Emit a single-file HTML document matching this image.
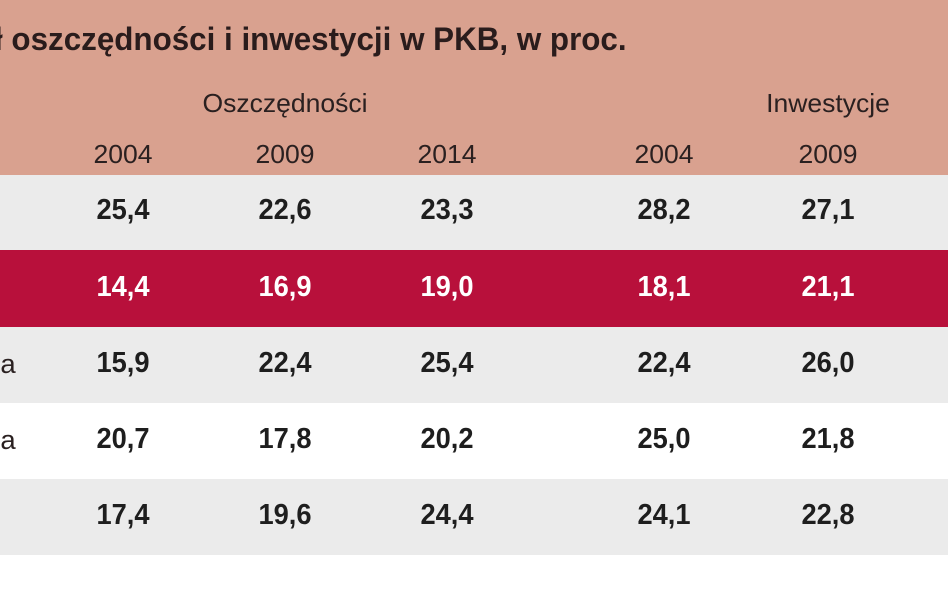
<!DOCTYPE html>
<html><head><meta charset="utf-8"><style>
body{margin:0;width:948px;height:593px;overflow:hidden;background:#fff;position:relative;font-family:"Liberation Sans Narrow","Liberation Sans",sans-serif;}
.b{position:absolute;left:0;width:948px}
.t{position:absolute;white-space:nowrap;transform:translateX(-50%) scaleX(0.94);}
.n{font-weight:bold;font-size:29px;color:#1e1e1e}
.w{color:#fff}
.y{font-size:26px;color:#2a2020;transform:translateX(-50%) scaleX(1.02)}
</style></head><body>
<div class="b" style="top:0;height:175px;background:#d9a18f"></div>
<div class="b" style="top:175px;height:75px;background:#ebebeb"></div>
<div class="b" style="top:250px;height:77px;background:#b8103b"></div>
<div class="b" style="top:327px;height:76px;background:#ebebeb"></div>
<div class="b" style="top:403px;height:76px;background:#fff"></div>
<div class="b" style="top:479px;height:76px;background:#ebebeb"></div>
<div style="position:absolute;left:-6px;top:21px;font-weight:bold;font-size:32px;color:#2a1c1c;white-space:nowrap;transform-origin:left;transform:scaleX(0.98)">ł oszczędności i inwestycji w PKB, w proc.</div>
<div class="t y" style="left:285px;top:88px">Oszczędności</div>
<div class="t y" style="left:828px;top:88px">Inwestycje</div>
<div class="t y" style="left:123px;top:139px">2004</div>
<div class="t y" style="left:285px;top:139px">2009</div>
<div class="t y" style="left:447px;top:139px">2014</div>
<div class="t y" style="left:664px;top:139px">2004</div>
<div class="t y" style="left:828px;top:139px">2009</div>

<div class="t n" style="left:123px;top:194px">25,4</div><div class="t n" style="left:285px;top:194px">22,6</div><div class="t n" style="left:447px;top:194px">23,3</div><div class="t n" style="left:664px;top:194px">28,2</div><div class="t n" style="left:828px;top:194px">27,1</div>
<div class="t n w" style="left:123px;top:271px">14,4</div><div class="t n w" style="left:285px;top:271px">16,9</div><div class="t n w" style="left:447px;top:271px">19,0</div><div class="t n w" style="left:664px;top:271px">18,1</div><div class="t n w" style="left:828px;top:271px">21,1</div>
<div class="t y" style="left:8px;top:349px;font-size:27px">a</div>
<div class="t n" style="left:123px;top:347px">15,9</div><div class="t n" style="left:285px;top:347px">22,4</div><div class="t n" style="left:447px;top:347px">25,4</div><div class="t n" style="left:664px;top:347px">22,4</div><div class="t n" style="left:828px;top:347px">26,0</div>
<div class="t y" style="left:8px;top:425px;font-size:27px">a</div>
<div class="t n" style="left:123px;top:423px">20,7</div><div class="t n" style="left:285px;top:423px">17,8</div><div class="t n" style="left:447px;top:423px">20,2</div><div class="t n" style="left:664px;top:423px">25,0</div><div class="t n" style="left:828px;top:423px">21,8</div>
<div class="t n" style="left:123px;top:499px">17,4</div><div class="t n" style="left:285px;top:499px">19,6</div><div class="t n" style="left:447px;top:499px">24,4</div><div class="t n" style="left:664px;top:499px">24,1</div><div class="t n" style="left:828px;top:499px">22,8</div>
</body></html>
